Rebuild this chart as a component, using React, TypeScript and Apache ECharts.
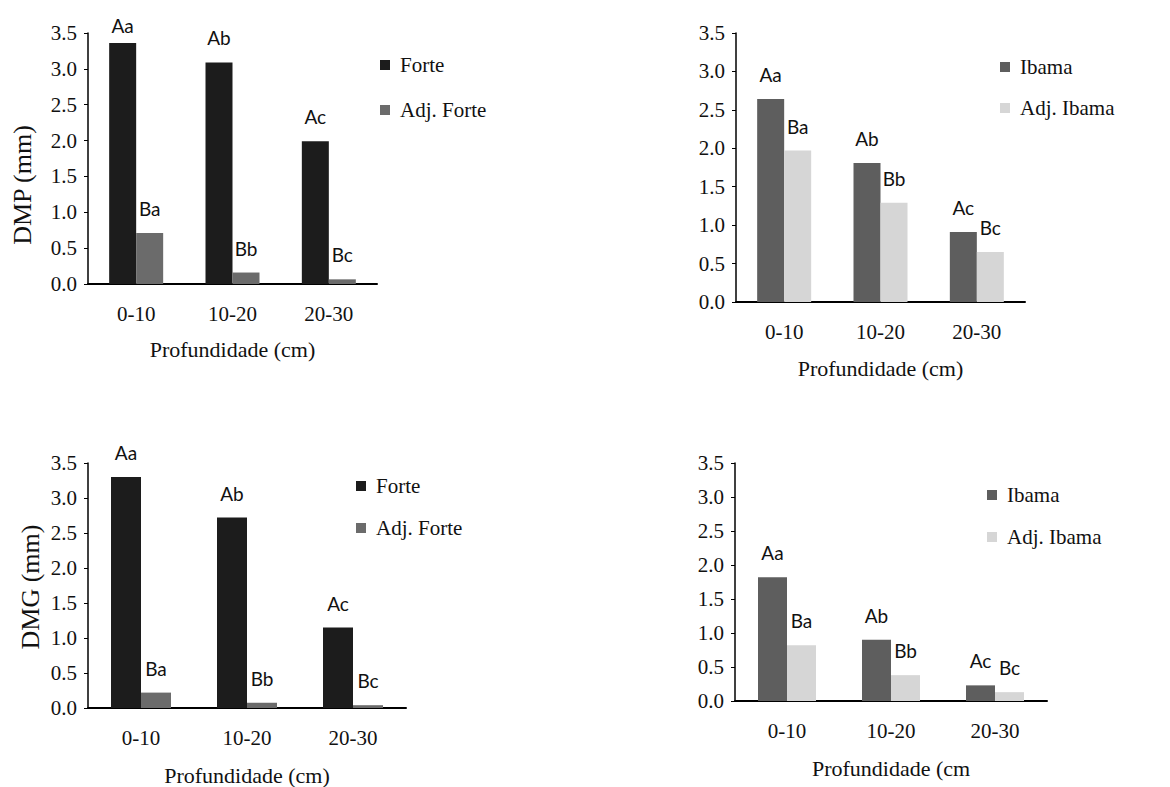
import React, { useEffect, useRef } from "react";
import * as echarts from "echarts";

const categories = ["0-10", "10-20", "20-30"];
const dmpForte = [3.36, 3.09, 1.99];
const dmpAdjForte = [0.71, 0.16, 0.065];
const dmpIbama = [2.64, 1.81, 0.91];
const dmpAdjIbama = [1.97, 1.29, 0.65];
const dmgForte = [3.3, 2.72, 1.15];
const dmgAdjForte = [0.22, 0.075, 0.04];
const dmgIbama = [1.82, 0.9, 0.23];
const dmgAdjIbama = [0.82, 0.38, 0.13];
const lettersA = ["Aa", "Ab", "Ac"];
const lettersB = ["Ba", "Bb", "Bc"];
const xNames = ["Profundidade (cm)", "Profundidade (cm)", "Profundidade (cm)", "Profundidade (cm"];
const yNames = ["DMP (mm)", "DMG (mm)"];

const SERIF = "Liberation Serif";
const SANS = "Lato";

const COLORS: Record<string, string> = {
  Forte: "#1c1c1c",
  "Adj. Forte": "#6b6b6b",
  Ibama: "#5e5e5e",
  "Adj. Ibama": "#d6d6d6",
};

export default function App() {
  const ref = useRef<HTMLDivElement>(null);
  useEffect(() => {
    if (!ref.current) return;
    const chart = echarts.init(ref.current, null, { renderer: "svg" });

    const grids = [
      { left: 88, top: 33, width: 289, height: 251 },
      { left: 736, top: 33, width: 289, height: 269 },
      { left: 88, top: 463, width: 318, height: 247 },
      { left: 735, top: 463, width: 312, height: 238 },
    ];
    const barWidths = [27, 27, 30, 29];
    const xNameGaps = [54, 55, 56, 56];

    const xAxis = grids.map((_, i) => ({
      type: "category",
      gridIndex: i,
      data: categories,
      axisLine: { show: true, lineStyle: { color: "#000", width: 2 } },
      axisTick: { show: false },
      axisLabel: { margin: 19, fontFamily: SERIF, fontSize: 21, color: "#111" },
      name: xNames[i],
      nameLocation: "middle",
      nameGap: xNameGaps[i],
      nameTextStyle: { fontFamily: SERIF, fontSize: 22, color: "#111" },
    }));

    const yAxis = grids.map((_, i) => ({
      type: "value",
      gridIndex: i,
      min: 0,
      max: 3.5,
      interval: 0.5,
      axisLine: { show: true, lineStyle: { color: "#000", width: 1.5 } },
      axisTick: { show: true, length: 4, lineStyle: { color: "#000" } },
      splitLine: { show: false },
      axisLabel: {
        margin: 11,
        fontFamily: SERIF,
        fontSize: 21,
        color: "#111",
        formatter: (v: number) => v.toFixed(1),
      },
    }));

    const panels = [
      { a: "Forte", b: "Adj. Forte", av: dmpForte, bv: dmpAdjForte },
      { a: "Ibama", b: "Adj. Ibama", av: dmpIbama, bv: dmpAdjIbama },
      { a: "Forte", b: "Adj. Forte", av: dmgForte, bv: dmgAdjForte },
      { a: "Ibama", b: "Adj. Ibama", av: dmgIbama, bv: dmgAdjIbama },
    ];

    const mkSeries = (name: string, data: number[], i: number, letters: string[]) => ({
      type: "bar",
      name,
      xAxisIndex: i,
      yAxisIndex: i,
      data: data.map((v, k) =>
        i === 0 && letters === lettersA && k === 0
          ? { value: v, label: { distance: 8 } }
          : v
      ),
      barWidth: barWidths[i],
      barGap: "0%",
      itemStyle: { color: COLORS[name] },
      label: {
        show: true,
        position: "top",
        distance: 15,
        fontFamily: SANS,
        fontSize: 19,
        color: "#111",
        formatter: (p: any) => letters[p.dataIndex],
      },
    });

    const series: any[] = [];
    panels.forEach((p, i) => {
      series.push(mkSeries(p.a, p.av, i, lettersA));
      series.push(mkSeries(p.b, p.bv, i, lettersB));
    });

    const legendPos = [
      { left: 380, top: 54, itemGap: 23, data: ["Forte", "Adj. Forte"] },
      { left: 1000, top: 56, itemGap: 19, data: ["Ibama", "Adj. Ibama"] },
      { left: 356, top: 475, itemGap: 20, data: ["Forte", "Adj. Forte"] },
      { left: 987, top: 484, itemGap: 20, data: ["Ibama", "Adj. Ibama"] },
    ];
    const legend = legendPos.map((l) => ({
      left: l.left,
      top: l.top,
      orient: "vertical",
      itemGap: l.itemGap,
      itemWidth: 10,
      itemHeight: 10,
      icon: "rect",
      padding: 0,
      data: l.data,
      textStyle: {
        fontFamily: SERIF,
        fontSize: 21,
        lineHeight: 22,
        color: "#111",
        padding: [0, 0, 0, 5],
      },
    }));

    chart.setOption({
      animation: false,
      backgroundColor: "#fff",
      grid: grids,
      xAxis,
      yAxis,
      legend,
      series,
      graphic: [
        {
          type: "text",
          x: 22,
          y: 185,
          rotation: Math.PI / 2,
          style: {
            text: yNames[0],
            fontFamily: SERIF,
            fontSize: 26,
            fill: "#111",
            align: "center",
            verticalAlign: "middle",
          },
        },
        {
          type: "text",
          x: 30,
          y: 587,
          rotation: Math.PI / 2,
          style: {
            text: yNames[1],
            fontFamily: SERIF,
            fontSize: 26,
            fill: "#111",
            align: "center",
            verticalAlign: "middle",
          },
        },
      ],
    });
    return () => chart.dispose();
  }, []);
  return (
    <div
      ref={ref}
      style={{ position: "absolute", left: 0, top: 0, width: 1170, height: 787 }}
    />
  );
}
